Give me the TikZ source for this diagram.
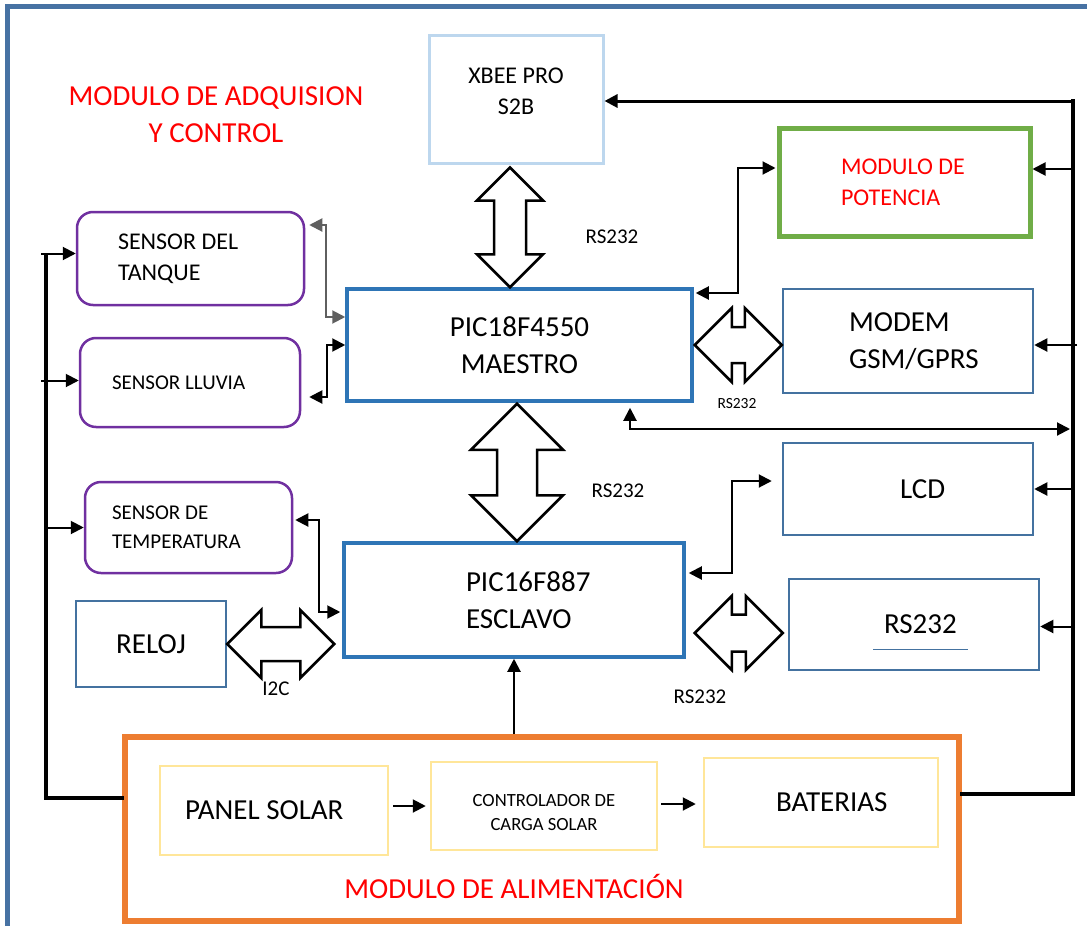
\documentclass[tikz,border=0pt]{standalone}
\usepackage{fontspec}
\setmainfont{Carlito}
\usetikzlibrary{arrows.meta,positioning,calc}
\definecolor{framecol}{RGB}{71,114,163}
\definecolor{piccol}{RGB}{46,117,182}
\definecolor{boxcol}{RGB}{68,114,160}
\definecolor{xbeecol}{RGB}{189,215,238}
\definecolor{potcol}{RGB}{112,173,71}
\definecolor{sencol}{RGB}{112,48,160}
\definecolor{alimcol}{RGB}{237,125,49}
\definecolor{solcol}{RGB}{255,230,153}
\definecolor{arrgray}{RGB}{95,95,95}
% wide hollow double arrows: tips, half shaft, half head
\newcommand{\fath}[4]{%
  \draw[fat] let \p1=(#1), \p2=(#2) in
    (\p1) -- (\x1+#4pt,\y1+#4pt) -- (\x1+#4pt,\y1+#3pt) -- (\x2-#4pt,\y1+#3pt)
    -- (\x2-#4pt,\y1+#4pt) -- (\x2,\y1) -- (\x2-#4pt,\y1-#4pt) -- (\x2-#4pt,\y1-#3pt)
    -- (\x1+#4pt,\y1-#3pt) -- (\x1+#4pt,\y1-#4pt) -- cycle;}
\newcommand{\fatv}[4]{%
  \draw[fat] let \p1=(#1), \p2=(#2) in
    (\p1) -- (\x1+#4pt,\y1-#4pt) -- (\x1+#3pt,\y1-#4pt) -- (\x1+#3pt,\y2+#4pt)
    -- (\x1+#4pt,\y2+#4pt) -- (\x1,\y2) -- (\x1-#4pt,\y2+#4pt) -- (\x1-#3pt,\y2+#4pt)
    -- (\x1-#3pt,\y1-#4pt) -- (\x1-#4pt,\y1-#4pt) -- cycle;}

\begin{document}
\begin{tikzpicture}[x=1pt,y=-1pt,
   >={Triangle[length=13pt,width=13pt]},
   bigtxt/.style={font=\fontsize{29}{37}\selectfont},
   midtxt/.style={font=\fontsize{24}{31}\selectfont},
   smalltxt/.style={font=\fontsize{21}{29}\selectfont},
   lbl/.style={font=\fontsize{21}{25}\selectfont},
   picbox/.style={draw=piccol,line width=3.5pt,inner sep=0pt,align=center},
   plain/.style={draw=boxcol,line width=2.5pt,inner sep=0pt,align=center},
   sensor/.style={draw=sencol,line width=2.5pt,rounded corners=16pt,inner sep=0pt,align=flush left},
   solar/.style={draw=solcol,line width=2.5pt,inner sep=0pt,align=center},
   fat/.style={draw=black,fill=white,line width=2.5pt,line join=miter},
   arr/.style={->,line width=2pt},
   dbl/.style={<->,line width=2pt},
   bus/.style={line width=4.5pt,line cap=rect}]
  \useasboundingbox (0,0) rectangle (1087,926);
  \draw[framecol,line width=5pt] (7.5,950) -- (7.5,6.5) -- (1100,6.5);

  \node[bigtxt,text=red,align=center] (title) at (216,114.5) {MODULO DE ADQUISION\\Y CONTROL};

  % blocks
  \node[draw=xbeecol,line width=3pt,minimum width=174pt,minimum height=128pt,
        midtxt,align=center,text depth=15pt] (xbee) at (516,99) {XBEE PRO\\S2B};
  \node[draw=potcol,line width=5pt,minimum width=251pt,minimum height=108pt,
        midtxt,text=red,text width=127pt,align=flush left] (pot) at (904.5,182) {MODULO DE\\POTENCIA};
  \node[picbox,minimum width=345pt,minimum height=112pt,bigtxt] (pic18) at (519.5,345) {PIC18F4550\\MAESTRO};
  \node[picbox,minimum width=340pt,minimum height=114pt,bigtxt,
        text width=96pt,align=flush left] (pic16) at (514,600) {PIC16F887\\ESCLAVO};
  \node[sensor,minimum width=227pt,minimum height=93pt,midtxt,text width=145pt] (tanque) at (190.5,258.5) {SENSOR DEL\\TANQUE};
  \node[sensor,minimum width=220pt,minimum height=89pt,smalltxt,text width=156pt] (lluvia) at (190,382.5) {SENSOR LLUVIA};
  \node[sensor,minimum width=207pt,minimum height=91pt,smalltxt,text width=153pt] (temp) at (188.5,527.5) {SENSOR DE\\TEMPERATURA};
  \node[plain,minimum width=150pt,minimum height=86pt,bigtxt] (reloj) at (151,644) {RELOJ};
  \node[plain,minimum width=250pt,minimum height=104pt,bigtxt,
        text width=118pt,align=flush left] (modem) at (908,341) {MODEM\\GSM/GPRS};
  \node[plain,minimum width=250pt,minimum height=92pt,bigtxt,
        text width=16pt,align=flush left] (lcd) at (908,489) {LCD};
  \node[plain,minimum width=250pt,minimum height=91pt,bigtxt,
        text width=60pt,align=flush left] (rsbox) at (914,624.5) {RS232};
  \draw[boxcol,line width=1pt] ($(rsbox)+(-41,24.5)$) -- ++(95,0);

  \node[draw=alimcol,line width=6pt,minimum width=834pt,minimum height=184pt] (alim) at (542,829) {};
  \node[bigtxt,text=red] (alimt) at (514,886) {MODULO DE ALIMENTACIÓN};
  \node[solar,minimum width=228pt,minimum height=89pt,bigtxt,
        text width=178pt,align=flush left] (panel) at (274,810.5) {PANEL SOLAR};
  \node[solar,minimum width=226pt,minimum height=88pt,text height=49pt,
        font=\fontsize{18.6}{24}\selectfont] (ctrl) at (544,806) {CONTROLADOR DE\\CARGA SOLAR};
  \node[solar,minimum width=234pt,minimum height=89pt,bigtxt,
        text width=90pt,align=flush left] (bat) at (821,802.5) {BATERIAS};

  % bus labels
  \node[lbl] (rs1) at (612,237) {RS232};
  \node[lbl] (rs2) at (618,491) {RS232};
  \node[lbl] (rs3) at (700,697) {RS232};
  \node[font=\fontsize{15.5}{18}\selectfont] (rs4) at (737,404) {RS232};
  \node[lbl] (i2c) at (276,689) {I2C};

  % wide buses
  \fatv{$(xbee.south)+(-6,3)$}{pic18.north}{16}{33}
  \fatv{$(pic18.south)+(-2.5,1)$}{pic16.north}{20}{46}
  \fath{reloj.east}{$(pic16.west)+(-8,0)$}{17}{34}
  \fath{$(pic18.east)+(1,0)$}{modem.west}{18}{37}
  \fath{$(pic16.east)+(9,33)$}{$(rsbox.west)+(-5,0)$}{18.5}{37}

  % power lines
  \coordinate (ltop) at (46,256);
  \coordinate (lbot) at (46,798);
  \coordinate (rtop) at (1073,101);
  \coordinate (rbot) at (1073,794);
  \coordinate (tap) at (1070,429);
  \draw[bus] (ltop) -- (lbot) -- (lbot -| alim.west);
  \draw[bus] (rtop) -- (rbot) -- (rbot -| alim.east);
  \draw[->,line width=3pt] (rtop) -- (rtop -| xbee.east);

  \draw[arr] ($(tanque.west -| ltop)+(-5,-5)$) -- ($(tanque.west)+(0,-5)$);
  \draw[arr] ($(lluvia.west -| ltop)+(-5,-2)$) -- ($(lluvia.west)+(0,-2)$);
  \draw[arr] (temp.west -| ltop) -- (temp.west);
  \draw[arr] ($(pot.east -| rtop)+(0,-13)$) -- ($(pot.east)+(0,-13)$);
  \draw[arr] ($(modem.east -| rtop)+(4,4)$) -- ($(modem.east)+(0,4)$);
  \draw[arr] (lcd.east -| rtop) -- (lcd.east);
  \draw[arr] ($(rsbox.east -| rtop)+(2,2)$) -- ($(rsbox.east)+(0,2)$);

  % signal lines
  \draw[dbl,arrgray] ($(tanque.east)+(4,-33.5)$) -| ($(pic18.west)+(-19,-28)$) -- ($(pic18.west)+(0,-28)$);
  \draw[dbl] (pic18.west) -- ++(-18,0) |- ($(lluvia.east)+(8,14.5)$);
  \draw[dbl] ($(pic18.east)+(2,-52)$) -- ++(42,0) |- ($(pot.west)+(-1,-14)$);
  \draw[dbl] ($(pic16.east)+(3,-27)$) -- ++(43,0) |- ($(lcd.west)+(-10,-8)$);
  \draw[dbl] ($(temp.east)+(2,-7.5)$) -- ++(24,0) |- ($(pic16.west)+(-2,12)$);
  \draw[dbl] ($(pic18.south)+(110.5,5)$) |- (tap);
  \draw[arr] (alim.north -| pic16.south) -- (pic16.south);
  \draw[arr] ($(panel.east)+(4,-4.5)$) -- ($(ctrl.west)+(-4,0)$);
  \draw[arr] ($(ctrl.east)+(3,-2)$) -- ($(bat.west)+(-7,1.5)$);
\end{tikzpicture}
\end{document}
